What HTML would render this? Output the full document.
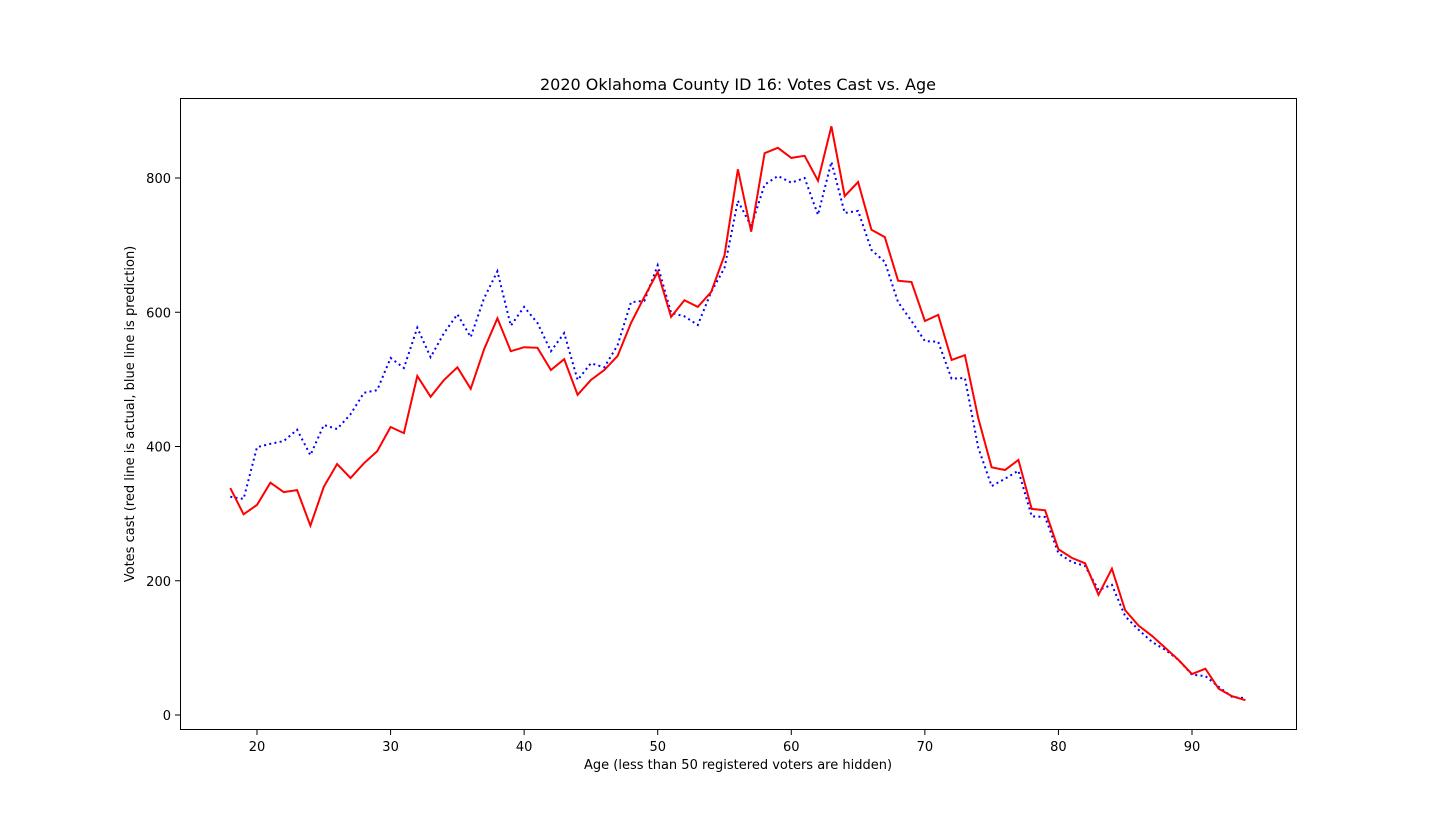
<!DOCTYPE html>
<html><head><meta charset="utf-8">
<style>
html,body{margin:0;padding:0;background:#fff;}
svg{display:block;font-family:"DejaVu Sans","Liberation Sans",sans-serif;}
</style></head>
<body>
<svg id="chart" width="1440" height="819" xmlns="http://www.w3.org/2000/svg">
<text x="738" y="90" font-size="16" text-anchor="middle">2020 Oklahoma County ID 16: Votes Cast vs. Age</text>
<text x="738" y="769" font-size="13" text-anchor="middle">Age (less than 50 registered voters are hidden)</text>
<text x="0" y="0" font-size="13" text-anchor="middle" transform="translate(134,414) rotate(-90)">Votes cast (red line is actual, blue line is prediction)</text>
<g id="ticks"></g>
<g id="series"></g>
<rect x="180.5" y="98.5" width="1116" height="631" fill="none" stroke="#000" stroke-width="1"/>
</svg>
<script>
const ages = [];
for (let a = 18; a <= 94; a++) ages.push(a);
const actualVotes = [338,299,313,346,332,335,282,340,374,353,375,393,429,420,505,474,499,518,486,545,591,542,548,547,514,530,477,499,514,535,584,623,660,593,618,608,630,685,813,720,837,845,830,833,796,877,773,794,723,712,647,645,587,596,529,536,442,369,365,380,307,305,247,234,226,179,218,156,133,118,100,82,61,69,39,28,22];
const predictedVotes = [325,322,399,404,408,425,387,432,426,448,480,484,532,517,577,533,569,597,563,621,661,580,608,584,542,569,499,524,518,551,615,617,670,599,594,581,630,666,766,728,790,803,793,800,745,824,748,751,693,675,615,587,557,556,501,502,398,341,352,364,296,295,241,228,222,186,194,147,127,109,97,82,60,58,42,27,25];
const xTicks = [20,30,40,50,60,70,80,90];
const yTicks = [0,200,400,600,800];

const NS = "http://www.w3.org/2000/svg";
function xScale(v){ return 257 + (v - 20) * (935 / 70); }
function yScale(v){ return 715 - v * (537 / 800); }

const tg = document.getElementById('ticks');
xTicks.forEach(t => {
  const l = document.createElementNS(NS,'line');
  l.setAttribute('x1', xScale(t)); l.setAttribute('x2', xScale(t));
  l.setAttribute('y1', 730); l.setAttribute('y2', 735);
  l.setAttribute('stroke', '#000');
  
  
  tg.appendChild(l);
  const tx = document.createElementNS(NS,'text');
  tx.setAttribute('x', xScale(t)); tx.setAttribute('y', 751);
  tx.setAttribute('font-size', '13'); tx.setAttribute('text-anchor', 'middle');
  tx.textContent = t;
  
  
  tg.appendChild(tx);
});
yTicks.forEach(t => {
  const l = document.createElementNS(NS,'line');
  l.setAttribute('x1', 175); l.setAttribute('x2', 180);
  l.setAttribute('y1', yScale(t)); l.setAttribute('y2', yScale(t));
  l.setAttribute('stroke', '#000');
  
  
  tg.appendChild(l);
  const tx = document.createElementNS(NS,'text');
  tx.setAttribute('x', 171); tx.setAttribute('y', yScale(t) + 5);
  tx.setAttribute('font-size', '13'); tx.setAttribute('text-anchor', 'end');
  tx.textContent = t;
  
  
  tg.appendChild(tx);
});

const sg = document.getElementById('series');
function pts(vals){ return vals.map((v,i) => xScale(ages[i]).toFixed(1) + ',' + yScale(v).toFixed(1)).join(' '); }
const pb = document.createElementNS(NS,'polyline');
pb.setAttribute('points', pts(predictedVotes));
pb.setAttribute('fill', 'none'); pb.setAttribute('stroke', '#0000ff');
pb.setAttribute('stroke-width', '2'); pb.setAttribute('stroke-dasharray', '2,3.3');


sg.appendChild(pb);
const pr = document.createElementNS(NS,'polyline');
pr.setAttribute('points', pts(actualVotes));
pr.setAttribute('fill', 'none'); pr.setAttribute('stroke', '#ff0000');
pr.setAttribute('stroke-width', '2');


sg.appendChild(pr);
</script>
</body></html>
